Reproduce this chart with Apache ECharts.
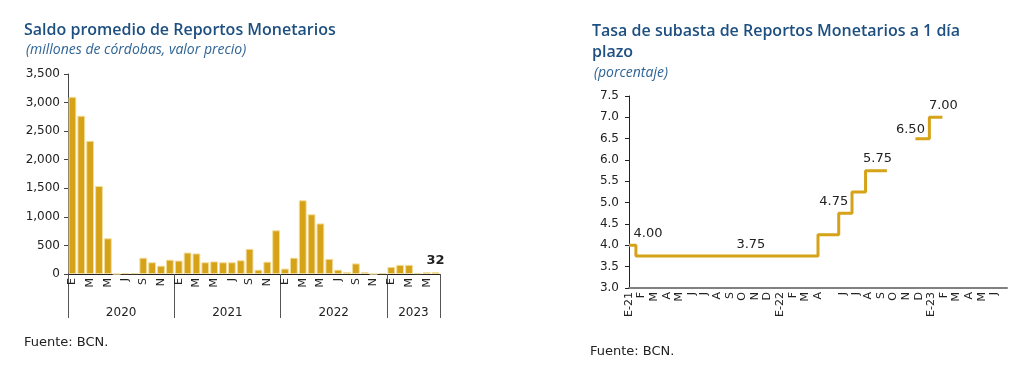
<!DOCTYPE html>
<html>
<head>
<meta charset="utf-8">
<script src="https://cdn.jsdelivr.net/npm/echarts@6/dist/echarts.min.js"></script>
<style>
  html, body { margin: 0; padding: 0; background: #fff; }
  #chart { width: 1030px; height: 377px; }
</style>
</head>
<body>
<div id="chart"></div>
<script>
// --- datos: saldo promedio mensual (millones de córdobas) ---
var anios = ['2020', '2021', '2022', '2023'];
var letrasMes = ['E', 'F', 'M', 'A', 'M', 'J', 'J', 'A', 'S', 'O', 'N', 'D'];
var saldo = [
  3100, 2770, 2330, 1540, 625, 0, 15, 15, 285, 205, 145, 250,
  235, 375, 360, 205, 220, 205, 205, 240, 440, 75, 215, 765,
  95, 285, 1290, 1045, 885, 265, 75, 35, 185, 35, 0, 15,
  125, 160, 160, 15, 35, 32
];

// --- datos: tasa de subasta a 1 día (fechas de cambio) ---
var tasaFechas = ['2021-01-01', '2021-01-18', '2022-04-01', '2022-05-21', '2022-06-22',
  '2022-07-25', '2022-09-15', null, '2022-11-23', '2022-12-27', '2023-01-28'];
var tasaValores = [4.00, 3.75, 4.25, 4.75, 5.25, 5.75, 5.75, null, 6.50, 7.00, 7.00];
var tasaEtiquetasX = ['E-21', 'F', 'M', 'A', 'M', 'J', 'J', 'A', 'S', 'O', 'N', 'D',
  'E-22', 'F', 'M', 'A', '', 'J', 'J', 'A', 'S', 'O', 'N', 'D',
  'E-23', 'F', 'M', 'A', 'M', 'J'];

var dorado = '#D5A218';
var azul = '#1D4F80';
var fuente = 'DejaVu Sans, Verdana, sans-serif';

var mesesCat = [];
for (var i = 0; i < saldo.length; i++) mesesCat.push(letrasMes[i % 12]);

// fecha -> posicion en meses desde enero 2021
function mesIdx(s) {
  var p = s.split('-');
  var y = +p[0], m = +p[1], d = +p[2];
  var dias = new Date(y, m, 0).getDate();
  return (y - 2021) * 12 + (m - 1) + (d - 1) / dias;
}

// posicion de las etiquetas de la tasa (indice del punto -> desplazamiento)
var etiquetasTasa = { 0: [19, 0], 1: [115, 0], 3: [-5, 0], 5: [12, 0], 8: [-5, 3], 9: [14, 0] };

var tasaData = tasaFechas.map(function (f, i) {
  if (f === null) return '-';
  var item = { value: [mesIdx(f), tasaValores[i]] };
  if (etiquetasTasa[i]) {
    item.label = { show: true, position: 'top', offset: etiquetasTasa[i] };
  }
  return item;
});

var saldoData = saldo.map(function (v, i) {
  if (i === saldo.length - 1) {
    return { value: v, label: { show: true, position: 'top', fontWeight: 'bold', fontSize: 13, color: '#222' } };
  }
  return v;
});

var tituloStyle = { fontFamily: 'Open Sans', fontWeight: 600, fontSize: 16, color: azul };
var subStyle = { fontFamily: 'Open Sans', fontStyle: 'italic', fontWeight: 'normal', fontSize: 14, color: '#2F6496' };
var pieStyle = { fontFamily: fuente, fontWeight: 'normal', fontSize: 13, color: '#222' };

var chart = echarts.init(document.getElementById('chart'));
chart.setOption({
  animation: false,
  textStyle: { fontFamily: fuente },
  title: [
    { text: 'Saldo promedio de Reportos Monetarios', left: 24, top: 22, padding: 0, textStyle: tituloStyle },
    { text: '(millones de córdobas, valor precio)', left: 26, top: 43, padding: 0, textStyle: subStyle },
    { text: 'Tasa de subasta de Reportos Monetarios a 1 día', left: 592, top: 23, padding: 0, textStyle: tituloStyle },
    { text: 'plazo', left: 592, top: 44, padding: 0, textStyle: tituloStyle },
    { text: '(porcentaje)', left: 594, top: 66, padding: 0, textStyle: subStyle },
    { text: 'Fuente: BCN.', left: 24, top: 336, padding: 0, textStyle: pieStyle },
    { text: 'Fuente: BCN.', left: 590, top: 345, padding: 0, textStyle: pieStyle }
  ],
  grid: [
    { left: 68, top: 74, width: 372, height: 200 },
    { left: 629, top: 96, width: 378, height: 192 }
  ],
  xAxis: [
    {
      type: 'category', gridIndex: 0, data: mesesCat,
      axisLine: { lineStyle: { color: '#222', width: 1 } },
      axisTick: { show: false },
      axisLabel: { interval: 1, rotate: 90, fontSize: 11, color: '#222', margin: 4 }
    },
    {
      type: 'value', gridIndex: 0, min: 0, max: 42, position: 'bottom',
      axisLine: { show: false },
      splitLine: { show: false },
      axisTick: { show: true, customValues: [0, 12, 24, 36, 42], length: 44, lineStyle: { color: '#555' } },
      axisLabel: {
        customValues: [6, 18, 30, 39], margin: 33, fontSize: 12, color: '#222',
        formatter: function (v) { return anios[Math.floor(v / 12)]; }
      }
    },
    {
      type: 'value', gridIndex: 1, min: 0, max: 30, interval: 1,
      axisLine: { lineStyle: { color: '#808080', width: 2 } },
      axisTick: { show: false },
      splitLine: { show: false },
      axisLabel: {
        rotate: 90, fontSize: 11, color: '#222', margin: 4,
        formatter: function (v) { return tasaEtiquetasX[v] || ''; }
      }
    }
  ],
  yAxis: [
    {
      type: 'value', gridIndex: 0, min: 0, max: 3500, interval: 500,
      axisLine: { show: true, lineStyle: { color: '#444' } },
      axisTick: { show: true, length: 4, lineStyle: { color: '#444' } },
      splitLine: { show: false },
      axisLabel: { fontSize: 12, color: '#222', margin: 8,
        formatter: function (v) { return v.toLocaleString('en-US'); } }
    },
    {
      type: 'value', gridIndex: 1, min: 3, max: 7.5, interval: 0.5,
      axisLine: { show: true, lineStyle: { color: '#222' } },
      axisTick: { show: true, length: 4, lineStyle: { color: '#222' } },
      splitLine: { show: false },
      axisLabel: { fontSize: 12, color: '#222', margin: 10,
        formatter: function (v) { return v.toFixed(1); } }
    }
  ],
  series: [
    {
      type: 'bar', xAxisIndex: 0, yAxisIndex: 0, data: saldoData,
      barCategoryGap: '12%',
      itemStyle: { color: dorado, borderColor: '#F2DC9A', borderWidth: 1 }
    },
    {
      type: 'line', xAxisIndex: 2, yAxisIndex: 1, data: tasaData,
      step: 'end', symbol: 'circle', symbolSize: 0.1, showSymbol: true, connectNulls: false,
      itemStyle: { color: dorado },
      lineStyle: { color: dorado, width: 3 },
      label: { fontSize: 13, color: '#222',
        formatter: function (p) { return p.value[1].toFixed(2); } }
    }
  ]
});
</script>
</body>
</html>
